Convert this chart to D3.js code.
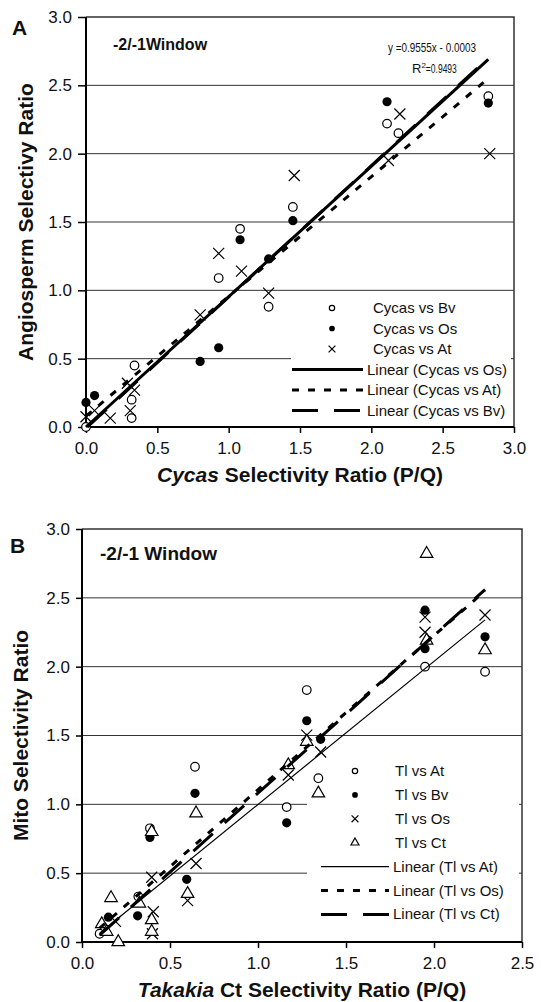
<!DOCTYPE html>
<html>
<head>
<meta charset="utf-8">
<script src="https://cdnjs.cloudflare.com/ajax/libs/d3/7.8.5/d3.min.js"></script>
<style>
body { margin: 0; background: #fff; }
text { font-family: Arial, "Liberation Sans", Helvetica, sans-serif; fill: #111; }
</style>
</head>
<body>
<svg id="chart" width="541" height="1002"></svg>
<script>

// ---- panel A : Cycas vs angiosperms, [x, y]
var cycasVsBv = [[0, 0.0], [0.32, 0.2], [0.32, 0.065], [0.34, 0.45], [0.93, 1.09], [1.08, 1.45],
                 [1.28, 0.88], [1.45, 1.61], [2.11, 2.22], [2.19, 2.15], [2.82, 2.42]]
var cycasVsOs = [[0, 0.18], [0.06, 0.23], [0.80, 0.48], [0.93, 0.58], [1.08, 1.37], [1.28, 1.23],
                 [1.45, 1.51], [2.11, 2.38], [2.82, 2.37]]
var cycasVsAt = [[0, 0.075], [0.06, 0.12], [0.17, 0.065], [0.29, 0.32], [0.34, 0.27], [0.31, 0.12],
                 [0.80, 0.82], [0.93, 1.27], [1.09, 1.14], [1.28, 0.98], [1.46, 1.84], [2.12, 1.95],
                 [2.2, 2.29], [2.83, 2.0]]
// trend lines, end points
var linearCycasOs = [[0, 0], [2.82, 2.69]]
var linearCycasAt = [[0, 0.08], [2.82, 2.55]]
var linearCycasBv = [[0.01, 0], [2.82, 2.70]]
var ticksA = [0, 0.5, 1, 1.5, 2, 2.5, 3]
var legendA = ["Cycas vs Bv", "Cycas vs Os", "Cycas vs At",
               "Linear (Cycas vs Os)", "Linear (Cycas vs At)", "Linear (Cycas vs Bv)"]

// ---- panel B : Takakia vs mito
var tlVsAt = [[0.10, 0.06], [0.32, 0.33], [0.386, 0.826], [0.642, 1.273], [1.163, 0.98], [1.277, 1.83],
              [1.343, 1.19], [1.949, 2.0], [2.29, 1.963]]
var tlVsBv = [[0.15, 0.18], [0.316, 0.19], [0.386, 0.76], [0.595, 0.455], [0.642, 1.08], [1.163, 0.866],
              [1.277, 1.607], [1.356, 1.472], [1.949, 2.41], [1.949, 2.13], [2.29, 2.217]]
var tlVsOs = [[0.19, 0.15], [0.396, 0.47], [0.405, 0.22], [0.40, 0.06], [0.6, 0.3], [0.648, 0.57],
              [1.172, 1.213], [1.277, 1.503], [1.356, 1.38], [1.949, 2.36], [1.949, 2.25], [2.29, 2.375]]
var tlVsCt = [[0.112, 0.13], [0.14, 0.075], [0.165, 0.32], [0.206, 0.0], [0.326, 0.28], [0.396, 0.8],
              [0.396, 0.16], [0.396, 0.075], [0.6, 0.35], [0.648, 0.935], [1.172, 1.285], [1.277, 1.455],
              [1.343, 1.08], [1.958, 2.82], [1.958, 2.19], [2.29, 2.12]]
var linearTlAt = [[0.1, 0.064], [2.29, 2.34]]
var linearTlOs = [[0.1, 0.10], [2.29, 2.55]]
var linearTlCt = [[0.1, 0.05], [2.29, 2.56]]
var ticksBx = [0, 0.5, 1, 1.5, 2, 2.5]
var ticksBy = [0, 0.5, 1, 1.5, 2, 2.5, 3]
var legendB = ["Tl vs At", "Tl vs Bv", "Tl vs Os", "Tl vs Ct",
               "Linear (Tl vs At)", "Linear (Tl vs Os)", "Linear (Tl vs Ct)"]

var svg = d3.select("#chart")
var fmt = d3.format(".1f")

function drawMarker(g, kind, cx, cy, small) {
    var k = small ? 0.62 : 1
    if (kind == "open") {
        g.append("circle").attr("cx", cx).attr("cy", cy).attr("r", 4.3 * k)
            .attr("fill", "#fff").attr("stroke", "#000").attr("stroke-width", 1.2)
    } else if (kind == "filled") {
        g.append("circle").attr("cx", cx).attr("cy", cy).attr("r", 4.6 * k)
            .attr("fill", "#000")
    } else if (kind == "cross") {
        var h = 5.5 * k
        g.append("path")
            .attr("d", "M" + (cx - h) + "," + (cy - h) + "L" + (cx + h) + "," + (cy + h) +
                       "M" + (cx - h) + "," + (cy + h) + "L" + (cx + h) + "," + (cy - h))
            .attr("stroke", "#000").attr("stroke-width", 1.2).attr("fill", "none")
    } else if (kind == "tri") {
        g.append("path")
            .attr("transform", "translate(" + cx + "," + cy + ")")
            .attr("d", d3.symbol().type(d3.symbolTriangle).size(small ? 28 : 68)())
            .attr("fill", "#fff").attr("stroke", "#000").attr("stroke-width", 1.2)
    }
}

function lineStyle(sel, st) {
    sel.attr("fill", "none").attr("stroke", "#000")
       .attr("stroke-width", st.w)
       .attr("stroke-dasharray", st.dash)
}

function drawPanel(p) {

    var g = svg.append("g")

    var xScale = d3.scaleLinear().domain([0, p.xmax]).range([p.left, p.right])
    var yScale = d3.scaleLinear().domain([0, 3]).range([p.bottom, p.top])

    // gridlines
    g.selectAll(".grid").data(p.yticks.filter(function(d) { return d > 0 && d < 3 }))
        .enter().append("line")
        .attr("x1", p.left).attr("x2", p.right)
        .attr("y1", function(d) { return yScale(d) })
        .attr("y2", function(d) { return yScale(d) })
        .attr("stroke", "#333").attr("stroke-width", 1)

    // frame
    g.append("path")
        .attr("d", "M" + p.left + "," + p.top + "H" + p.right + "V" + p.bottom)
        .attr("fill", "none").attr("stroke", "#333").attr("stroke-width", 1.5)

    var y_axis = d3.axisLeft(yScale).tickValues(p.yticks).tickFormat(fmt)
        .tickSize(p.ytick).tickPadding(6)
    var x_axis = d3.axisBottom(xScale).tickValues(p.xticks).tickFormat(fmt)
        .tickSize(6).tickPadding(9)

    var ya = g.append("g").attr("transform", "translate(" + p.left + ",0)").call(y_axis)
    var xa = g.append("g").attr("transform", "translate(0," + p.bottom + ")").call(x_axis)
    ;[ya, xa].forEach(function(a) {
        a.select(".domain").attr("stroke", "#000").attr("stroke-width", 2)
        a.selectAll(".tick line").attr("stroke", "#000").attr("stroke-width", 1.5)
        a.selectAll(".tick text").style("font-size", "17px").attr("fill", "#111")
            .style("font-family", "Arial, 'Liberation Sans', sans-serif")
    })
    ya.select(".domain").attr("d", "M0," + p.bottom + "V" + p.top)
    xa.select(".domain").attr("d", "M" + p.left + ",0H" + p.right)

    // legend background (drawn under the points)
    g.append("rect")
        .attr("x", p.legend.x).attr("y", p.legend.y)
        .attr("width", p.right - 3 - p.legend.x).attr("height", p.legend.h)
        .attr("fill", "#fff")

    // points
    p.series.forEach(function(s) {
        s.data.forEach(function(d) {
            drawMarker(g, s.kind, xScale(d[0]), yScale(d[1]), false)
        })
    })

    // trend lines
    var line = d3.line()
        .x(function(d) { return xScale(d[0]) })
        .y(function(d) { return yScale(d[1]) })
    p.trends.forEach(function(t) {
        g.append("path").datum(t.data).attr("d", line).call(lineStyle, t)
    })

    // legend entries
    var L = p.legend
    p.series.forEach(function(s, i) {
        var cy = L.row0 + i * L.step
        drawMarker(g, s.kind, L.mx, cy, true)
        g.append("text").attr("x", L.tx).attr("y", cy + 5).style("font-size", "15px").text(s.label)
    })
    p.trends.forEach(function(t, i) {
        var cy = L.row0 + (p.series.length + i) * L.step
        g.append("line").attr("x1", L.lx1).attr("x2", L.lx2).attr("y1", cy).attr("y2", cy)
            .call(lineStyle, t)
        g.append("text").attr("x", L.lx2 + 4).attr("y", cy + 5).style("font-size", "15px").text(t.label)
    })

    // titles
    g.append("text").attr("x", p.panelX).attr("y", p.panelY)
        .style("font-size", "21px").style("font-weight", "bold").text(p.panel)

    g.append("text").attr("x", p.winX).attr("y", p.winY)
        .style("font-size", p.winSize).style("font-weight", "bold").text(p.win)

    g.append("text")
        .attr("transform", "translate(" + p.ytitleX + "," + ((p.top + p.bottom) / 2) + ") rotate(-90)")
        .attr("text-anchor", "middle")
        .style("font-size", "21px").style("font-weight", "bold").text(p.ytitle)

    var xt = g.append("text").attr("x", (p.left + p.right) / 2).attr("y", p.bottom + 55)
        .attr("text-anchor", "middle").style("font-size", "21px").style("font-weight", "bold")
    xt.append("tspan").style("font-style", "italic").text(p.xtitleItalic)
    xt.append("tspan").text(p.xtitleRest)

    return g
}

var gA = drawPanel({
    left: 86, right: 514, top: 17, bottom: 427, xmax: 3,
    xticks: ticksA, yticks: ticksA, ytick: 8,
    series: [
        { kind: "open", data: cycasVsBv, label: legendA[0] },
        { kind: "filled", data: cycasVsOs, label: legendA[1] },
        { kind: "cross", data: cycasVsAt, label: legendA[2] }
    ],
    trends: [
        { data: linearCycasOs, w: 3, dash: null, label: legendA[3] },
        { data: linearCycasAt, w: 3, dash: "7,9", label: legendA[4] },
        { data: linearCycasBv, w: 3, dash: "26,16", label: legendA[5] }
    ],
    legend: { x: 291, y: 297, h: 127, row0: 308, step: 20.5, mx: 332, tx: 373, lx1: 292, lx2: 363 },
    panel: "A", panelX: 12, panelY: 35,
    win: "-2/-1Window", winX: 113, winY: 50, winSize: "16px",
    ytitle: "Angiosperm Selectivy Ratio", ytitleX: 33,
    xtitleItalic: "Cycas", xtitleRest: " Selectivity Ratio (P/Q)"
})

// regression label for Os (narrow type in the original)
gA.append("text").attr("x", 388).attr("y", 52)
    .attr("textLength", 88).attr("lengthAdjust", "spacingAndGlyphs")
    .style("font-size", "13px").text("y =0.9555x - 0.0003")
var r2 = gA.append("text").attr("x", 412).attr("y", 73)
    .style("font-size", "13px")
r2.append("tspan").text("R")
r2.append("tspan").attr("dy", -5).style("font-size", "8px").text("2")
r2.append("tspan").attr("dy", 5).attr("textLength", 31).attr("lengthAdjust", "spacingAndGlyphs").text("=0.9493")

drawPanel({
    left: 82, right: 522, top: 529, bottom: 942, xmax: 2.5,
    xticks: ticksBx, yticks: ticksBy, ytick: 6,
    series: [
        { kind: "open", data: tlVsAt, label: legendB[0] },
        { kind: "filled", data: tlVsBv, label: legendB[1] },
        { kind: "cross", data: tlVsOs, label: legendB[2] },
        { kind: "tri", data: tlVsCt, label: legendB[3] }
    ],
    trends: [
        { data: linearTlAt, w: 1.2, dash: null, label: legendB[4] },
        { data: linearTlOs, w: 3, dash: "7,9", label: legendB[5] },
        { data: linearTlCt, w: 3, dash: "26,16", label: legendB[6] }
    ],
    legend: { x: 307, y: 757, h: 170, row0: 771, step: 23.9, mx: 355, tx: 395, lx1: 321, lx2: 389 },
    panel: "B", panelX: 10, panelY: 553,
    win: "-2/-1 Window", winX: 100, winY: 560, winSize: "19px",
    ytitle: "Mito Selectivity Ratio", ytitleX: 28,
    xtitleItalic: "Takakia", xtitleRest: " Ct Selectivity Ratio (P/Q)"
})

</script>
</body>
</html>
